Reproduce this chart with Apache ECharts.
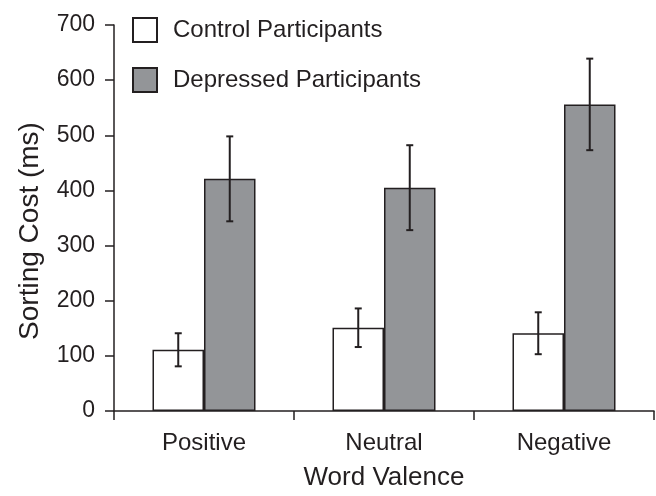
<!DOCTYPE html>
<html>
<head>
<meta charset="utf-8">
<script src="https://cdn.jsdelivr.net/npm/echarts@6/dist/echarts.min.js"></script>
<style>html,body{margin:0;padding:0;background:#fff}#c{width:656px;height:496px}</style>
</head>
<body>
<div id="c"></div>
<script>
const categories = ['Positive', 'Neutral', 'Negative'];
const controlValues = [111, 151, 141];
const controlErrors = [30, 35, 38];
const depressedValues = [421, 405, 556];
const depressedErrors = [77, 77, 83];
const yTicks = [0, 100, 200, 300, 400, 500, 600, 700];
const seriesNames = ['Control Participants', 'Depressed Participants'];

const INK = '#231f20';
const BAR_W = 51.5;
const FONT = 'Liberation Sans, Arial, Helvetica, sans-serif';

function errData(vals, errs) {
  return vals.map((v, i) => [i, v - errs[i], v + errs[i]]);
}

function errSeries(vals, errs, side) {
  return {
    type: 'custom',
    silent: true,
    z: 10,
    data: errData(vals, errs),
    renderItem: function (params, api) {
      const i = api.value(0);
      const lo = api.coord([i, api.value(1)]);
      const hi = api.coord([i, api.value(2)]);
      const x = lo[0] + side * BAR_W / 2;
      const cap = 3.5;
      const st = { stroke: INK, lineWidth: 2 };
      return {
        type: 'group',
        children: [
          { type: 'line', shape: { x1: x, y1: lo[1], x2: x, y2: hi[1] }, style: st },
          { type: 'line', shape: { x1: x - cap, y1: lo[1], x2: x + cap, y2: lo[1] }, style: st },
          { type: 'line', shape: { x1: x - cap, y1: hi[1], x2: x + cap, y2: hi[1] }, style: st }
        ]
      };
    }
  };
}

const chart = echarts.init(document.getElementById('c'), null, { renderer: 'canvas' });
chart.setOption({
  backgroundColor: '#fff',
  animation: false,
  textStyle: { fontFamily: FONT, color: INK },
  legend: {
    orient: 'vertical',
    left: 132,
    top: 17,
    padding: 0,
    itemWidth: 24,
    itemHeight: 24,
    itemGap: 24,
    icon: 'rect',
    data: seriesNames,
    textStyle: { fontSize: 24, color: INK, fontFamily: FONT, padding: [0, 0, 0, 11] }
  },
  grid: { left: 114, right: 2, top: 25, bottom: 79, containLabel: false },
  xAxis: {
    type: 'category',
    data: categories,
    name: 'Word Valence',
    nameLocation: 'middle',
    nameGap: 54,
    nameTextStyle: { fontSize: 26, color: INK, fontFamily: FONT },
    axisLine: { lineStyle: { color: INK, width: 1.5 } },
    axisTick: { show: true, length: 9, lineStyle: { color: INK, width: 1.5 } },
    axisLabel: { fontSize: 24, color: INK, margin: 20, fontFamily: FONT },
    splitLine: { show: false }
  },
  yAxis: {
    type: 'value',
    min: 0,
    max: 700,
    interval: 100,
    name: 'Sorting Cost (ms)',
    nameLocation: 'middle',
    nameGap: 70,
    nameTextStyle: { fontSize: 28, color: INK, fontFamily: FONT, padding: [0, 26, 0, 0] },
    axisLine: { show: true, lineStyle: { color: INK, width: 1.5 } },
    axisTick: { show: true, length: 9, lineStyle: { color: INK, width: 1.5 } },
    axisLabel: {
      fontSize: 23, color: INK, margin: 19, fontFamily: FONT,
      formatter: function (v) { return yTicks.indexOf(v) >= 0 ? String(v) : ''; }
    },
    splitLine: { show: false }
  },
  series: [
    {
      name: seriesNames[0],
      type: 'bar',
      data: controlValues,
      barWidth: BAR_W,
      barGap: '0%',
      itemStyle: { color: '#ffffff', borderColor: INK, borderWidth: 1.5 }
    },
    {
      name: seriesNames[1],
      type: 'bar',
      data: depressedValues,
      barWidth: BAR_W,
      barGap: '0%',
      itemStyle: { color: '#939598', borderColor: INK, borderWidth: 1.5 }
    },
    errSeries(controlValues, controlErrors, -1),
    errSeries(depressedValues, depressedErrors, 1)
  ]
});
</script>
</body>
</html>
